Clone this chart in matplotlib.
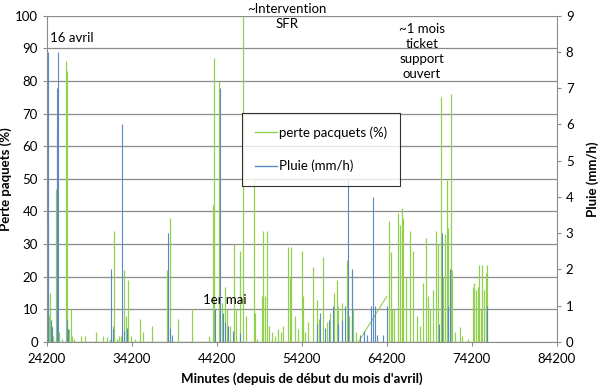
import matplotlib
matplotlib.use("Agg")
import matplotlib.pyplot as plt

plt.rcParams['font.family'] = ['Lato', 'DejaVu Sans']

# --- DATA ---
# perte paquets (%) : spikes (minute, value)
perte_min = [24353, 24471, 24624, 24824, 24941, 25294, 25647, 26000, 26435, 26624,
             26765, 27024, 27176, 27412, 28200, 28706, 30000, 30824, 31294, 31647,
             32000, 32118, 32471, 32706, 32941, 33294, 33530, 33800, 34118, 34588,
             35177, 35565, 36624, 38388, 38741, 39588, 41330, 43294, 43765, 43883,
             44471, 44824, 45177, 45412, 45765, 46236, 46471, 46941, 47294, 47647,
             48588, 48706, 48977, 49495, 49683, 49848, 50083, 50353, 50706, 51059,
             51412, 51765, 52000, 52589, 52789, 52977, 53418, 53765, 54200, 54389,
             54589, 54941, 55565, 55965, 56236, 56706, 57142, 57530, 57942, 58318,
             58506, 58906, 59495, 59765, 60083, 60236, 60589, 64471, 64671, 64789,
             65059, 65565, 65765, 65965, 66154, 66471, 66977, 67330, 67765, 68118,
             68506, 68789, 69059, 69236, 69683, 69965, 70271, 70612, 70824, 71059,
             71330, 71448, 71730, 71848, 72236, 72824, 73000, 73800, 74295, 74471,
             74706, 74883, 75059, 75236, 75412, 75648, 75883, 76036]
perte_val = [36, 8, 15, 5, 2, 47, 3, 1, 86, 83,
             4, 10, 2, 1, 2, 2, 3, 2, 1.5, 1,
             5, 34, 1, 2, 2, 22, 8, 19, 2, 1,
             7, 3, 5, 22, 38, 7, 10, 2, 42, 87,
             80, 12, 17, 10, 5, 30, 10, 28, 100, 8,
             49.5, 9, 1, 14, 34, 14, 34, 5, 3, 2,
             4, 3, 5, 29, 20, 29, 8, 4, 28, 14,
             3, 6, 23, 13, 7, 26, 6, 9, 15, 19,
             11, 12, 25, 8, 22, 10, 3, 37, 27.6, 10,
             10, 39.4, 36, 41, 38, 20, 34, 28, 8, 5,
             18, 32, 14, 10, 16, 34, 30, 75, 20, 33,
             49.5, 35, 76, 22, 3, 4.7, 2, 1, 17, 18,
             16, 17, 23.5, 10, 23.5, 16, 21, 23.5]
# gap in the packet-loss data (straight segment drawn by the line chart)
gap_min = [60859, 64200]
gap_val = [0, 14]

# Pluie (mm/h) : spikes (minute, value)
pluie_min = [24388, 24671, 24824, 25377, 25447, 25530, 26553, 26706, 31730, 32000,
             33094, 33294, 33647, 38506, 38706, 38941, 43930, 44518, 44977, 45177,
             45530, 46118, 46941, 55995, 56353, 56941, 57412, 57848, 58471, 58941,
             59295, 59612, 60083, 61059, 61530, 61883, 62353, 62553, 62765, 63059,
             63765, 64271, 70389, 70671, 71448, 71648, 76036]
pluie_val = [8.0, 0.6, 0.4, 7.0, 5.75, 8.0, 0.6, 0.35, 2.0, 0.35,
             6.0, 0.3, 0.4, 3.0, 0.4, 0.2, 0.9, 7.0, 0.8, 0.55,
             0.45, 0.3, 0.25, 0.5, 0.8, 0.4, 0.6, 1.0, 0.5, 0.6,
             1.0, 4.5, 2.0, 0.2, 0.3, 0.2, 1.0, 4.0, 1.0, 0.2,
             0.2, 1.0, 0.5, 3.0, 1.0, 2.0, 1.0]

x_ticks = [24200, 34200, 44200, 54200, 64200, 74200, 84200]

GREEN = '#92D050'
BLUE = '#5A8AC6'
GRID = '#8C8C8C'

fig = plt.figure(figsize=(6, 3.9), dpi=100)
ax = fig.add_axes([0.078, 0.123, 0.850, 0.837])
ax2 = ax.twinx()

# packet loss on the left axis
ax.vlines(perte_min, 0, perte_val, color=GREEN, linewidth=0.9, zorder=3)
ax.hlines(0, min(perte_min), max(perte_min), color=GREEN, linewidth=0.9, zorder=3)
ax.plot(gap_min, gap_val, color=GREEN, linewidth=0.8, zorder=3)
ax.plot([], [], color=GREEN, linewidth=1.0, label='perte pacquets (%)')

# rain on the right axis
ax2.vlines(pluie_min, 0, pluie_val, color=BLUE, linewidth=0.8, zorder=3)
ax2.hlines(0, min(pluie_min), max(pluie_min), color=BLUE, linewidth=0.6, zorder=3)
ax.plot([], [], color=BLUE, linewidth=1.0, label='Pluie (mm/h)')

ax.set_xlim(24200, 84200)
ax.set_ylim(0, 100)
ax2.set_ylim(0, 9)
ax.set_xticks(x_ticks)
ax.set_yticks(range(0, 101, 10))
ax2.set_yticks(range(0, 10))

ax.yaxis.grid(True, color=GRID, linewidth=0.9)
ax.set_axisbelow(True)

for a in (ax, ax2):
    a.tick_params(colors='black', labelsize=9.5, length=3, width=0.8)
    a.tick_params(axis='both', color=GRID)
    for s in a.spines.values():
        s.set_visible(False)
ax.tick_params(axis='x', pad=5)
ax.spines['left'].set_visible(True)
ax.spines['left'].set_color(GRID)
ax.spines['bottom'].set_visible(True)
ax.spines['bottom'].set_color(GRID)
ax2.spines['right'].set_visible(True)
ax2.spines['right'].set_color(GRID)

ax.set_xlabel("Minutes (depuis de début du mois d'avril)", fontsize=9.5,
              fontweight='bold', labelpad=5)
ax.set_ylabel("Perte paquets (%)", fontsize=9.5, fontweight='bold')
ax2.set_ylabel("Pluie (mm/h)", fontsize=9.5, fontweight='bold')
ax.yaxis.set_label_coords(-0.068, 0.5)
ax2.yaxis.set_label_coords(1.058, 0.5)

# annotations
ax.text(24600, 93.2, "16 avril", fontsize=9.5, ha='left', va='center')
ax.text(42550, 12.9, "1er mai", fontsize=9.5, ha='left', va='center', zorder=5)
ax.text(52435, 99.7, "~Intervention\nSFR", fontsize=9.5, ha='center', va='center',
        linespacing=1.3, clip_on=False)
ax.text(68318, 89.1, "~1 mois\nticket\nsupport\nouvert", fontsize=9.5, ha='center',
        va='center', linespacing=1.3)

leg = ax2.legend(*ax.get_legend_handles_labels(), loc='upper left',
                 bbox_to_anchor=(0.403, 0.71), bbox_transform=fig.transFigure,
                 fontsize=9.5, frameon=True, fancybox=False, labelspacing=1.6,
                 handlelength=1.7, handletextpad=0.1, borderpad=1.0,
                 borderaxespad=0)
leg.get_frame().set_edgecolor('black')
leg.get_frame().set_linewidth(0.8)
leg.set_zorder(10)

fig.savefig("out.png", dpi=100)
